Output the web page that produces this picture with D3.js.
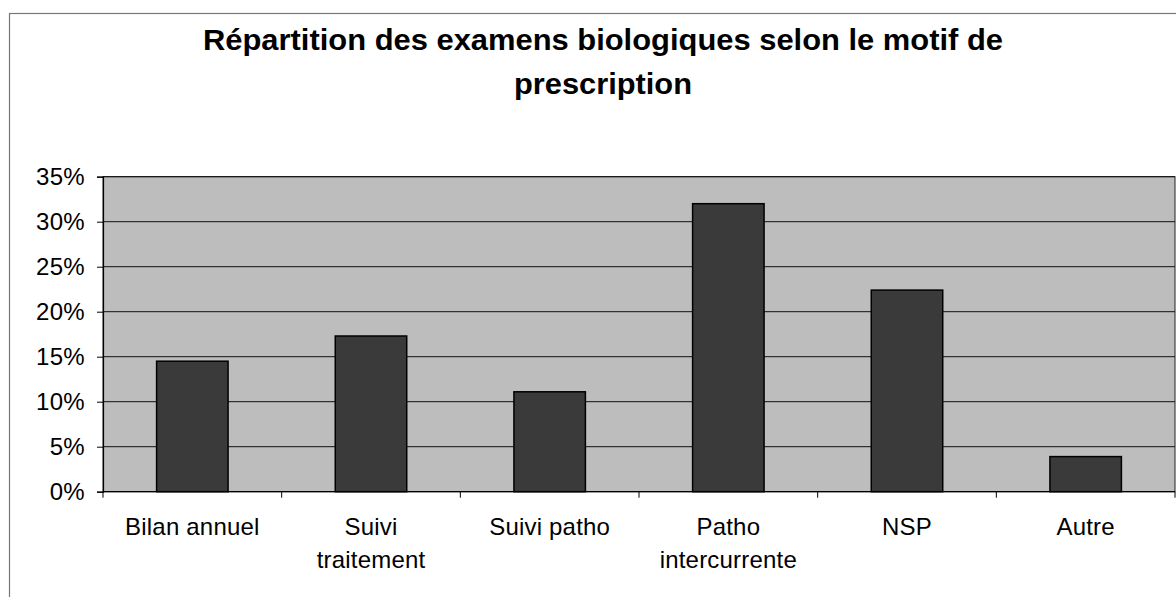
<!DOCTYPE html>
<html><head><meta charset="utf-8">
<script src="https://cdn.jsdelivr.net/npm/d3@7"></script>
<style>
html,body{margin:0;padding:0;background:#fff;}
svg{display:block;font-family:"Liberation Sans",Arial,sans-serif;}
</style></head>
<body>
<svg id="chart" width="1176" height="597"></svg>
<script>
const titleLines = ["Répartition des examens biologiques selon le motif de", "prescription"];
const categories = [["Bilan annuel"], ["Suivi", "traitement"], ["Suivi patho"], ["Patho", "intercurrente"], ["NSP"], ["Autre"]];
const values = [0.145, 0.173, 0.111, 0.32, 0.224, 0.039];
const yTicks = [0, 0.05, 0.10, 0.15, 0.20, 0.25, 0.30, 0.35];

const svg = d3.select("#chart");
const plot = {left: 103, right: 1175, top: 176.7, bottom: 491.7};

// outer chart frame
svg.append("rect").attr("x", 9.5).attr("y", 13.5).attr("width", 1200).attr("height", 700)
  .attr("fill", "none").attr("stroke", "#777").attr("stroke-width", 1.2);

// title
const title = svg.append("g");
const titleWidths = [800, 178];
titleLines.forEach((t, i) => {
  title.append("text").attr("x", 603).attr("y", 50 + i * 44)
    .attr("text-anchor", "middle").attr("font-weight", "bold")
    .attr("font-size", 29).attr("fill", "#000")
    .attr("textLength", titleWidths[i]).attr("lengthAdjust", "spacingAndGlyphs").text(t);
});

const x = d3.scaleBand().domain(categories.map((d, i) => i)).range([plot.left, plot.right]).paddingInner(0.6).paddingOuter(0.3);
const xb = d3.scaleBand().domain(categories.map((d, i) => i)).range([plot.left, plot.right]);
const y = d3.scaleLinear().domain([0, 0.35]).range([plot.bottom, plot.top]);

// plot background
svg.append("rect").attr("x", plot.left).attr("y", plot.top)
  .attr("width", plot.right - plot.left).attr("height", plot.bottom - plot.top)
  .attr("fill", "#bdbdbd").attr("stroke", "#222").attr("stroke-width", 1);

// gridlines
svg.append("g").selectAll("line").data(yTicks.slice(1)).join("line")
  .attr("x1", plot.left).attr("x2", plot.right)
  .attr("y1", d => y(d)).attr("y2", d => y(d))
  .attr("stroke", "#111").attr("stroke-width", 1);

// bars
svg.append("g").selectAll("rect").data(values).join("rect")
  .attr("x", (d, i) => x(i)).attr("width", x.bandwidth())
  .attr("y", d => y(d)).attr("height", d => y(0) - y(d))
  .attr("fill", "#3a3a3a").attr("stroke", "#000").attr("stroke-width", 1.5);

// y axis
const yAxis = d3.axisLeft(y).tickValues(yTicks).tickFormat(d3.format(".0%")).tickSize(6).tickPadding(12);
const gy = svg.append("g").attr("transform", `translate(${plot.left},0)`).call(yAxis);
gy.select(".domain").attr("stroke", "#000").attr("stroke-width", 1.2);
gy.selectAll(".tick line").attr("stroke", "#000");
gy.selectAll(".tick text").attr("font-size", 24).attr("fill", "#000")
  .attr("font-family", "Liberation Sans, Arial, sans-serif").attr("letter-spacing", 0.3);

// x axis baseline + ticks at category boundaries
const gx = svg.append("g").attr("transform", `translate(0,${plot.bottom})`);
gx.append("line").attr("x1", plot.left).attr("x2", plot.right).attr("y1", 0).attr("y2", 0)
  .attr("stroke", "#000").attr("stroke-width", 1.2);
gx.selectAll("line.tk").data(d3.range(categories.length + 1)).join("line").attr("class", "tk")
  .attr("x1", i => plot.left + i * xb.step()).attr("x2", i => plot.left + i * xb.step())
  .attr("y1", 0).attr("y2", 6).attr("stroke", "#000");

// category labels
const labels = svg.append("g");
categories.forEach((lines, i) => {
  const t = labels.append("text").attr("text-anchor", "middle").attr("font-size", 24)
    .attr("letter-spacing", 0.2).attr("fill", "#000");
  lines.forEach((ln, j) => {
    t.append("tspan").attr("x", xb(i) + xb.bandwidth() / 2).attr("y", 535 + j * 33).text(ln);
  });
});
</script>
</body></html>
